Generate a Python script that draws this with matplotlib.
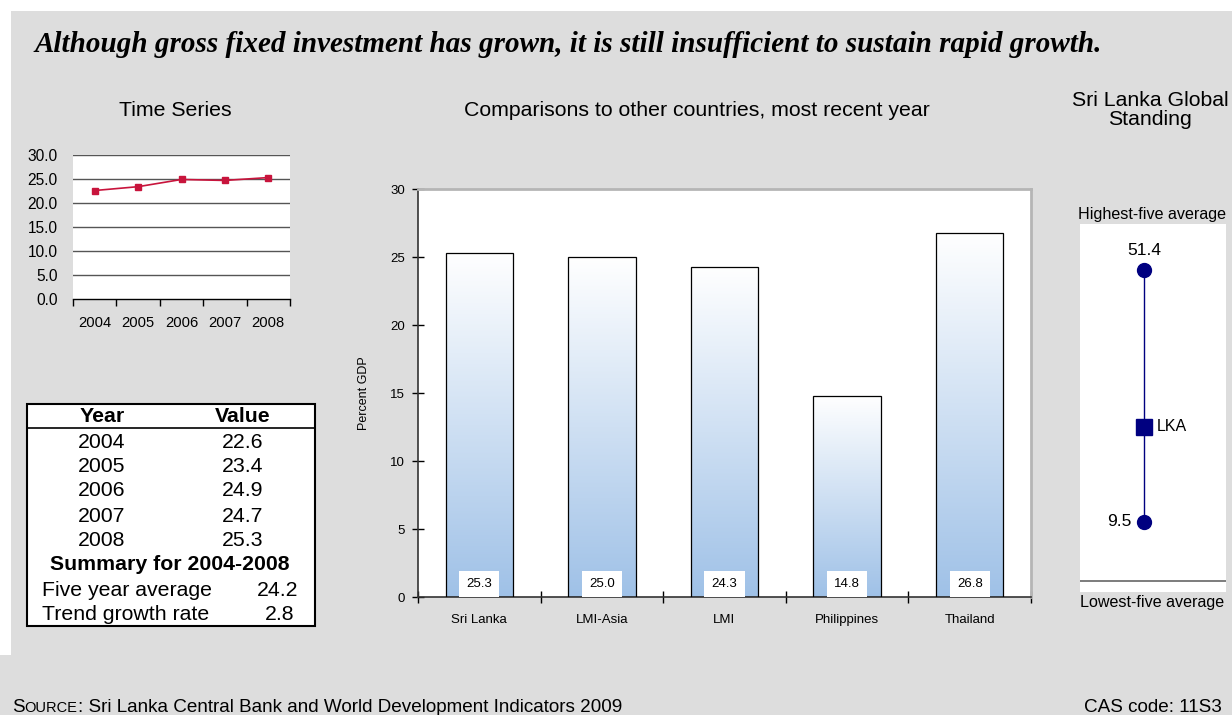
import numpy as np
import matplotlib
matplotlib.use("Agg")
import matplotlib.pyplot as plt
from matplotlib.patches import Rectangle
from matplotlib.colors import LinearSegmentedColormap
from matplotlib.offsetbox import TextArea, HPacker, AnchoredOffsetbox

# Gross fixed investment, percent of GDP
years = ["2004", "2005", "2006", "2007", "2008"]
investment = [22.6, 23.4, 24.9, 24.7, 25.3]
five_year_avg = 24.2
trend_growth = 2.8

countries = ["Sri Lanka", "LMI-Asia", "LMI", "Philippines", "Thailand"]
recent = [25.3, 25.0, 24.3, 14.8, 26.8]

highest_five = 51.4
lowest_five = 9.5
lka_value = 25.3

W, H = 1232, 715
SANS = "Liberation Sans"
plt.rcParams["font.family"] = SANS

fig = plt.figure(figsize=(W / 100, H / 100), dpi=100, facecolor="white")


def fx(px):
    return px / W


def fy(py):
    return 1 - py / H


# grey page background
fig.patches.append(Rectangle((fx(11), 0), 1, fy(11), transform=fig.transFigure,
                             facecolor="#dddddd", edgecolor="none", zorder=-5))
fig.patches.append(Rectangle((0, 0), 1, fy(655), transform=fig.transFigure,
                             facecolor="#dddddd", edgecolor="none", zorder=-5))

fig.text(fx(35), fy(45),
         "Although gross fixed investment has grown, it is still insufficient to sustain rapid growth.",
         family="Liberation Serif", style="italic", weight="bold", fontsize=21,
         ha="left", va="center")

# ---- time series ----
fig.text(fx(175), fy(110), "Time Series", fontsize=15.3, ha="center", va="center")
ax1 = fig.add_axes([fx(73), fy(299), fx(290) - fx(73), fy(155) - fy(299)])
ax1.set_facecolor("white")
xs = np.arange(len(years))
for g in range(5, 31, 5):
    ax1.axhline(g, color="#555555", lw=1.0, zorder=1)
ax1.plot(xs, investment, color="#c8143c", lw=1.2, marker="s", ms=4, zorder=3)
ax1.set_xlim(-0.5, len(years) - 0.5)
ax1.set_ylim(0, 30)
ax1.set_yticks(range(0, 31, 5))
ax1.set_yticklabels([f"{v:.1f}" for v in range(0, 31, 5)], fontsize=11.2)
ax1.set_xticks(xs)
ax1.set_xticklabels(years, fontsize=10.6)
ax1.set_xticks(np.arange(-0.5, len(years), 1), minor=True)
ax1.tick_params(axis="x", which="major", length=0, pad=12)
ax1.tick_params(axis="x", which="minor", length=5, direction="out", width=1)
ax1.tick_params(axis="y", length=0, pad=11)
for s in ["left", "right", "top"]:
    ax1.spines[s].set_visible(False)
ax1.spines["bottom"].set_color("black")
ax1.spines["bottom"].set_linewidth(1.0)

# ---- summary table ----
TS = 15.3
fig.patches.append(Rectangle((fx(27), fy(626)), fx(315) - fx(27), fy(404) - fy(626),
                             transform=fig.transFigure, facecolor="white",
                             edgecolor="black", lw=1.5, zorder=1))
fig.add_artist(plt.Line2D([fx(27), fx(315)], [fy(428), fy(428)], color="black", lw=1.2))
fig.text(fx(102), fy(417), "Year", fontsize=TS, weight="bold", ha="center", va="center")
fig.text(fx(243), fy(417), "Value", fontsize=TS, weight="bold", ha="center", va="center")
row_y = [442, 466, 491, 516, 540]
for yr, val, py in zip(years, investment, row_y):
    fig.text(fx(102), fy(py), yr, fontsize=TS, ha="center", va="center")
    fig.text(fx(243), fy(py), f"{val:.1f}", fontsize=TS, ha="center", va="center")
fig.text(fx(170), fy(565), "Summary for 2004-2008", fontsize=TS, weight="bold",
         ha="center", va="center")
fig.text(fx(42), fy(590), "Five year average", fontsize=TS, ha="left", va="center")
fig.text(fx(298), fy(590), f"{five_year_avg:.1f}", fontsize=TS, ha="right", va="center")
fig.text(fx(42), fy(614), "Trend growth rate", fontsize=TS, ha="left", va="center")
fig.text(fx(294), fy(614), f"{trend_growth:.1f}", fontsize=TS, ha="right", va="center")

# ---- country comparison ----
fig.text(fx(697), fy(110), "Comparisons to other countries, most recent year",
         fontsize=15.3, ha="center", va="center")
ax2 = fig.add_axes([fx(418), fy(597), fx(1031) - fx(418), fy(189) - fy(597)])
ax2.set_facecolor("white")
cx = np.arange(len(countries))
bar_w = 0.55
blue_grad = LinearSegmentedColormap.from_list("bargrad", ["#9fc1e7", "#ffffff"])
grad = np.linspace(0, 1, 256).reshape(-1, 1)
for x, v in zip(cx, recent):
    ax2.imshow(grad, extent=[x - bar_w / 2, x + bar_w / 2, 0, v], origin="lower",
               aspect="auto", cmap=blue_grad, zorder=2)
ax2.bar(cx, recent, width=bar_w, facecolor="none", edgecolor="black", lw=0.9, zorder=3)
for x, v in zip(cx, recent):
    ax2.text(x, 0.95, f"{v:.1f}", fontsize=9.5, ha="center", va="center", zorder=4,
             bbox=dict(boxstyle="square,pad=0.55", facecolor="white", edgecolor="none"))
ax2.set_xlim(-0.5, len(countries) - 0.5)
ax2.set_ylim(0, 30)
ax2.set_yticks(range(0, 31, 5))
ax2.set_yticklabels([str(v) for v in range(0, 31, 5)], fontsize=9.5)
ax2.set_xticks(cx)
ax2.set_xticklabels(countries, fontsize=9.5)
ax2.set_xticks(np.arange(-0.5, len(countries), 1), minor=True)
ax2.tick_params(axis="x", which="major", length=0, pad=12)
ax2.tick_params(axis="x", which="minor", length=8, direction="inout", width=1)
ax2.tick_params(axis="y", length=9, direction="inout", width=1, pad=5)
ax2.set_ylabel("Percent GDP", fontsize=9, labelpad=14)
for s in ["top", "right"]:
    ax2.spines[s].set_color("#b5b5b5")
    ax2.spines[s].set_linewidth(2)
for s in ["left", "bottom"]:
    ax2.spines[s].set_color("#333333")
    ax2.spines[s].set_linewidth(1.2)

# ---- global standing ----
fig.text(fx(1150), fy(110), "Sri Lanka Global\nStanding", fontsize=15.3,
         ha="center", va="center", linespacing=1.0)
fig.text(fx(1152), fy(215), "Highest-five average", fontsize=11.6, ha="center", va="center")
fig.text(fx(1152), fy(602), "Lowest-five average", fontsize=11.6, ha="center", va="center")
ax3 = fig.add_axes([fx(1080), fy(592), fx(1226) - fx(1080), fy(224) - fy(592)])
ax3.set_facecolor("white")
ax3.set_xlim(0, 1)
ax3.set_ylim(-2.14, 59.05)
ax3.plot([0.44, 0.44], [lowest_five, highest_five], color="#000080", lw=1, zorder=2)
ax3.plot([0.44, 0.44], [lowest_five, highest_five], "o", color="#000080", ms=10, zorder=3)
ax3.plot([0.44], [lka_value], "s", color="#000080", ms=11, zorder=3)
ax3.annotate(f"{highest_five:.1f}", (0.44, highest_five), xytext=(0, 9),
             textcoords="offset points", ha="center", va="bottom", fontsize=12.5)
ax3.annotate(f"{lowest_five:.1f}", (0.44, lowest_five), xytext=(-9, 0),
             textcoords="offset points", ha="right", va="center", fontsize=12.5)
ax3.annotate("LKA", (0.44, lka_value), xytext=(9, 0),
             textcoords="offset points", ha="left", va="center", fontsize=11.5)
ax3.plot([0, 1], [0.03, 0.03], color="#666666", lw=1.2, transform=ax3.transAxes)
ax3.set_xticks([])
ax3.set_yticks([])
for s in ax3.spines.values():
    s.set_visible(False)

# ---- footer ----
narrow = ["Liberation Sans Narrow", SANS]
src = HPacker(children=[
    TextArea("S", textprops=dict(fontsize=13.6, family=narrow)),
    TextArea("OURCE", textprops=dict(fontsize=10.5, family=narrow)),
    TextArea(": Sri Lanka Central Bank and World Development Indicators 2009",
             textprops=dict(fontsize=13.6, family=narrow)),
], align="baseline", pad=0, sep=0)
fig.add_artist(AnchoredOffsetbox(loc="lower left", child=src, pad=0, borderpad=0,
                                 frameon=False, bbox_to_anchor=(fx(12), fy(716)),
                                 bbox_transform=fig.transFigure))
fig.text(fx(1222), fy(708), "CAS code: 11S3", fontsize=13.6, family=narrow,
         ha="right", va="center")

fig.savefig("out.png", dpi=100, facecolor=fig.get_facecolor())
